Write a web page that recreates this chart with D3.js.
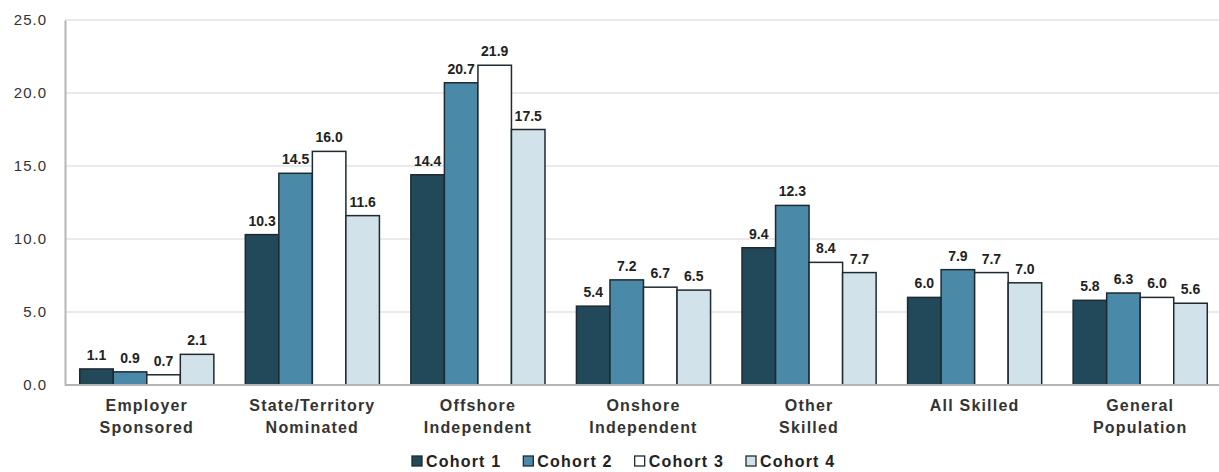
<!DOCTYPE html>
<html><head><meta charset="utf-8">
<script src="https://cdn.jsdelivr.net/npm/d3@7"></script>
<style>body{margin:0;background:#fff;}svg{display:block;}</style>
</head><body>
<svg id="c" width="1219" height="472"></svg>
<script>
const categories = [["Employer","Sponsored"],["State/Territory","Nominated"],["Offshore","Independent"],["Onshore","Independent"],["Other","Skilled"],["All Skilled"],["General","Population"]];
const seriesNames = ["Cohort 1","Cohort 2","Cohort 3","Cohort 4"];
const cohort1 = [1.1,10.3,14.4,5.4,9.4,6.0,5.8];
const cohort2 = [0.9,14.5,20.7,7.2,12.3,7.9,6.3];
const cohort3 = [0.7,16.0,21.9,6.7,8.4,7.7,6.0];
const cohort4 = [2.1,11.6,17.5,6.5,7.7,7.0,5.6];
const yTicks = [0,5,10,15,20,25];
const colors = ["#21495a","#4a8aa8","#ffffff","#d2e2eb"];
const series = [cohort1,cohort2,cohort3,cohort4];

const svg = d3.select("#c");
const y = d3.scaleLinear().domain([0,25]).range([385,20]);
const x0 = d3.scaleBand().domain(d3.range(categories.length)).range([64,1223]).paddingInner(0.19).paddingOuter(0.095);
const x1 = d3.scaleBand().domain(d3.range(4)).range([0,x0.bandwidth()]);

// gridlines
svg.append("g").selectAll("line").data(yTicks.filter(d=>d>0)).join("line")
  .attr("x1",65).attr("x2",1219).attr("y1",d=>y(d)).attr("y2",d=>y(d))
  .attr("stroke","#e3e3e3").attr("stroke-width",1.5);

const yAxis = svg.append("g").attr("transform","translate(65,0)")
  .call(d3.axisLeft(y).tickValues(yTicks).tickFormat(d3.format(".1f")).tickSize(0).tickPadding(18));
yAxis.select(".domain").attr("stroke","#b5b5b5").attr("stroke-width",2);
yAxis.selectAll("text").attr("font-family","Liberation Sans, Arial, sans-serif").attr("font-size",15)
  .attr("letter-spacing","1").attr("fill","#333");

// bars
const g = svg.append("g");
series.forEach((vals,si)=>{
  g.selectAll(".b"+si).data(vals).join("rect")
    .attr("x",(d,i)=>x0(i)+x1(si)).attr("y",d=>y(d))
    .attr("width",x1.bandwidth()).attr("height",d=>y(0)-y(d))
    .attr("fill",colors[si]).attr("stroke","#1e2a30").attr("stroke-width",1.5);
  g.selectAll(".l"+si).data(vals).join("text")
    .attr("x",(d,i)=>x0(i)+x1(si)+x1.bandwidth()/2).attr("y",d=>y(d)-9)
    .attr("text-anchor","middle").attr("font-family","Liberation Sans Narrow, Arial Narrow, Liberation Sans, sans-serif")
    .attr("font-weight","bold").attr("font-size",14).attr("fill","#222")
    .text(d=>d.toFixed(1));
});

// baseline
svg.append("line").attr("x1",65).attr("x2",1219).attr("y1",y(0)).attr("y2",y(0)).attr("stroke","#b5b5b5").attr("stroke-width",2);

// category labels
const xAxis = svg.append("g").attr("transform","translate(0,"+y(0)+")")
  .call(d3.axisBottom(x0).tickSize(0).tickFormat(""));
xAxis.select(".domain").remove();
xAxis.selectAll(".tick").each(function(d){
  const t = d3.select(this).append("text").attr("text-anchor","middle")
    .attr("font-family","Liberation Sans, Arial, sans-serif").attr("font-weight","bold")
    .attr("font-size",16).attr("fill","#333").attr("letter-spacing","1.2");
  categories[d].forEach((line,k)=>{
    t.append("tspan").attr("x",0).attr("y",26+k*22).text(line);
  });
});

// legend
const legend = svg.append("g");
const lx = d3.scalePoint().domain(seriesNames).range([412,746]);
seriesNames.forEach((n,i)=>{
  const gx = lx(n);
  legend.append("rect").attr("x",gx).attr("y",456).attr("width",10).attr("height",10)
    .attr("fill",colors[i]).attr("stroke","#1e2a30").attr("stroke-width",1.3);
  legend.append("text").attr("x",gx+14).attr("y",467).attr("font-family","Liberation Sans, Arial, sans-serif")
    .attr("font-weight","bold").attr("font-size",16).attr("fill","#222").attr("letter-spacing","1.2").text(n);
});
</script>
</body></html>
